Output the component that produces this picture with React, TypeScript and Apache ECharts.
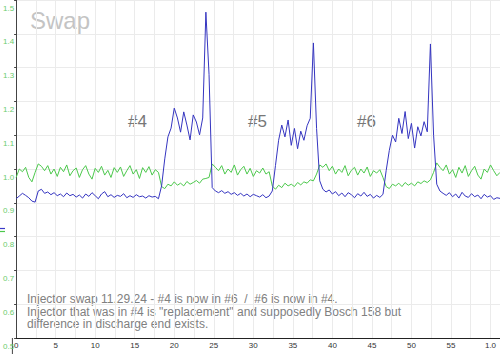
import React, { useEffect, useRef } from "react";
import * as echarts from "echarts";

const STEP = 0.4; // seconds between samples
const xTickLabels: Record<number, string> = { 60: "1.0" };

const blueValues = [
  0.912, 0.920, 0.928, 0.922, 0.915, 0.905, 0.902, 0.935, 0.940, 0.928,
  0.932, 0.924, 0.930, 0.921, 0.926, 0.918, 0.929, 0.921, 0.925, 0.917,
  0.923, 0.914, 0.926, 0.919, 0.930, 0.921, 0.912, 0.926, 0.933, 0.918,
  0.924, 0.916, 0.922, 0.919, 0.927, 0.915, 0.921, 0.916, 0.924, 0.918,
  0.920, 0.914, 0.921, 0.917, 0.919, 0.912,
  0.950, 1.030, 1.095,
  1.121, 1.180, 1.151, 1.109, 1.169, 1.130, 1.086, 1.160, 1.139, 1.101, 1.151,
  1.464, 1.280, 0.945,
  0.935, 0.930, 0.936, 0.928, 0.933, 0.925, 0.930, 0.922, 0.928, 0.920,
  0.926, 0.918, 0.925, 0.921, 0.917, 0.924, 0.915, 0.920,
  0.935, 1.010, 1.085,
  1.130, 1.095, 1.145, 1.070, 1.120, 1.060, 1.112, 1.085, 1.128, 1.150,
  1.373, 1.120, 0.965,
  0.940, 0.932, 0.938, 0.926, 0.933, 0.921, 0.929, 0.918, 0.930, 0.924,
  0.915, 0.927, 0.920, 0.931, 0.919, 0.925, 0.914, 0.922, 0.916,
  0.925, 0.995, 1.055, 1.100,
  1.080, 1.150, 1.105, 1.170, 1.090, 1.135, 1.062, 1.125, 1.098, 1.140, 1.110,
  1.370, 1.100, 0.955,
  0.935, 0.928, 0.922, 0.930, 0.918, 0.926, 0.914, 0.931, 0.920, 0.916,
  0.927, 0.918, 0.923, 0.912, 0.925, 0.917, 0.921, 0.910, 0.915, 0.913,
];

const greenValues = [
  0.975, 1.000, 0.992, 1.005, 0.975, 0.962, 0.990, 1.015, 1.008, 0.995,
  1.010, 0.985, 1.000, 0.978, 1.005, 0.992, 1.012, 0.980, 0.995, 1.003,
  0.975, 0.998, 1.010, 0.985, 0.970, 1.002, 0.990, 1.008, 0.982, 0.996,
  0.975, 1.004, 0.990, 1.006, 0.978, 0.995, 1.010, 0.985, 0.998, 0.972,
  1.004, 0.990, 1.007, 0.982, 0.998, 0.990,
  0.948, 0.942, 0.955, 0.950, 0.962, 0.952, 0.958, 0.950, 0.963, 0.955,
  0.960, 0.966, 0.958, 0.970, 0.972, 0.975,
  1.015, 1.005, 0.995, 1.010, 0.985, 1.000, 0.990, 1.012, 0.982, 0.998,
  1.008, 0.985, 1.002, 0.978, 0.995, 0.988, 1.003, 0.985, 0.992,
  0.950, 0.940, 0.952, 0.945, 0.958, 0.950, 0.955, 0.948, 0.960, 0.953,
  0.962, 0.958, 0.968, 0.965, 0.985,
  1.012, 1.005, 1.015, 0.995, 1.008, 0.985, 1.000, 0.990, 1.010, 0.980,
  0.996, 1.005, 0.982, 1.000, 0.988, 1.006, 0.978, 0.995, 0.988, 0.998,
  0.975, 0.948, 0.942, 0.955, 0.950, 0.958, 0.948, 0.960, 0.952, 0.958,
  0.950, 0.962, 0.957, 0.965, 0.960, 0.968, 0.990,
  1.018, 1.005, 0.995, 1.012, 0.985, 0.998, 0.975, 1.005, 0.988, 1.010,
  0.978, 0.995, 1.008, 0.982, 0.970, 1.000, 0.990, 1.012, 0.995, 0.980, 0.990,
];

const cylinderLabels = ["#4", "#5", "#6"];
const titleText = "Swap";
const noteLines = [
  "Injector swap 11.29.24 - #4 is now in #6  /  #6 is now in #4.",
  'Injector that was in #4 is "replacement" and supposedly Bosch 158 but',
  "difference in discharge end exists.",
];

const toPairs = (vals: number[]) => vals.map((v, i) => [+(i * STEP).toFixed(2), v]);

export default function App() {
  const ref = useRef<HTMLDivElement>(null);
  useEffect(() => {
    document.body.style.margin = "0";
    if (!ref.current) return;
    const chart = echarts.init(ref.current, undefined, { renderer: "svg" });
    const font = "Arial, 'Liberation Sans', sans-serif";
    chart.setOption({
      animation: false,
      backgroundColor: "#ffffff",
      grid: { left: 14.4, top: 0, right: 0, bottom: 16, containLabel: false },
      xAxis: {
        type: "value",
        min: 0,
        max: 61.2,
        interval: 2.5,
        axisLine: { show: true, lineStyle: { color: "#222", width: 1 } },
        axisTick: { show: false },
        splitLine: { show: true, lineStyle: { color: "#ebebeb", width: 1 } },
        axisLabel: {
          color: "#333",
          fontSize: 8,
          fontFamily: font,
          margin: 3,
          showMaxLabel: false,
          formatter: (v: number) =>
            xTickLabels[v] !== undefined ? xTickLabels[v] : Math.abs(v % 5) < 1e-6 && v < 60 ? String(v) : "",
        },
      },
      yAxis: {
        type: "value",
        min: 0.5,
        max: 1.5,
        interval: 0.1,
        offset: 2,
        axisLine: { show: true, lineStyle: { color: "#444", width: 1 } },
        axisTick: { show: true, length: 2, lineStyle: { color: "#444" } },
        splitLine: { show: true, lineStyle: { color: "#ebebeb", width: 1 } },
        axisLabel: {
          color: "#6ccc6c",
          fontSize: 8,
          fontFamily: font,
          margin: 0,
          verticalAlign: "top",
          padding: [4, 0, 0, 0],
          formatter: (v: number) => v.toFixed(1),
        },
      },
      series: [
        {
          type: "line",
          data: toPairs(greenValues),
          showSymbol: false,
          symbol: "none",
          lineStyle: { color: "#4cc84c", width: 1 },
          z: 2,
        },
        {
          type: "line",
          data: toPairs(blueValues),
          showSymbol: false,
          symbol: "none",
          lineStyle: { color: "#3535c0", width: 1 },
          z: 3,
        },
      ],
      graphic: [
        {
          type: "text",
          left: 30,
          top: 8,
          style: { text: titleText, fill: "#c4c4c4", font: `24px ${font}` },
        },
        {
          type: "text",
          left: 128,
          top: 113,
          style: { text: cylinderLabels[0], fill: "#777", font: `17px ${font}` },
        },
        {
          type: "text",
          left: 248,
          top: 113,
          style: { text: cylinderLabels[1], fill: "#777", font: `17px ${font}` },
        },
        {
          type: "text",
          left: 357,
          top: 113,
          style: { text: cylinderLabels[2], fill: "#777", font: `17px ${font}` },
        },
        {
          type: "text",
          left: 27,
          top: 292.5,
          style: {
            text: noteLines.join("\n"),
            fill: "#808080",
            font: `12px ${font}`,
            lineHeight: 12.7,
          },
        },
        {
          type: "line",
          shape: { x1: 0, y1: 228.5, x2: 5, y2: 228.5 },
          style: { stroke: "#3a3ac8", lineWidth: 1.2 },
        },
        {
          type: "line",
          shape: { x1: 0, y1: 231.5, x2: 5, y2: 231.5 },
          style: { stroke: "#4cc84c", lineWidth: 1.2 },
        },
        {
          type: "line",
          shape: { x1: 12.4, y1: 338, x2: 12.4, y2: 354 },
          style: { stroke: "#444", lineWidth: 1 },
        },
      ],
    });
    return () => chart.dispose();
  }, []);
  return <div ref={ref} style={{ width: 500, height: 354 }} />;
}
